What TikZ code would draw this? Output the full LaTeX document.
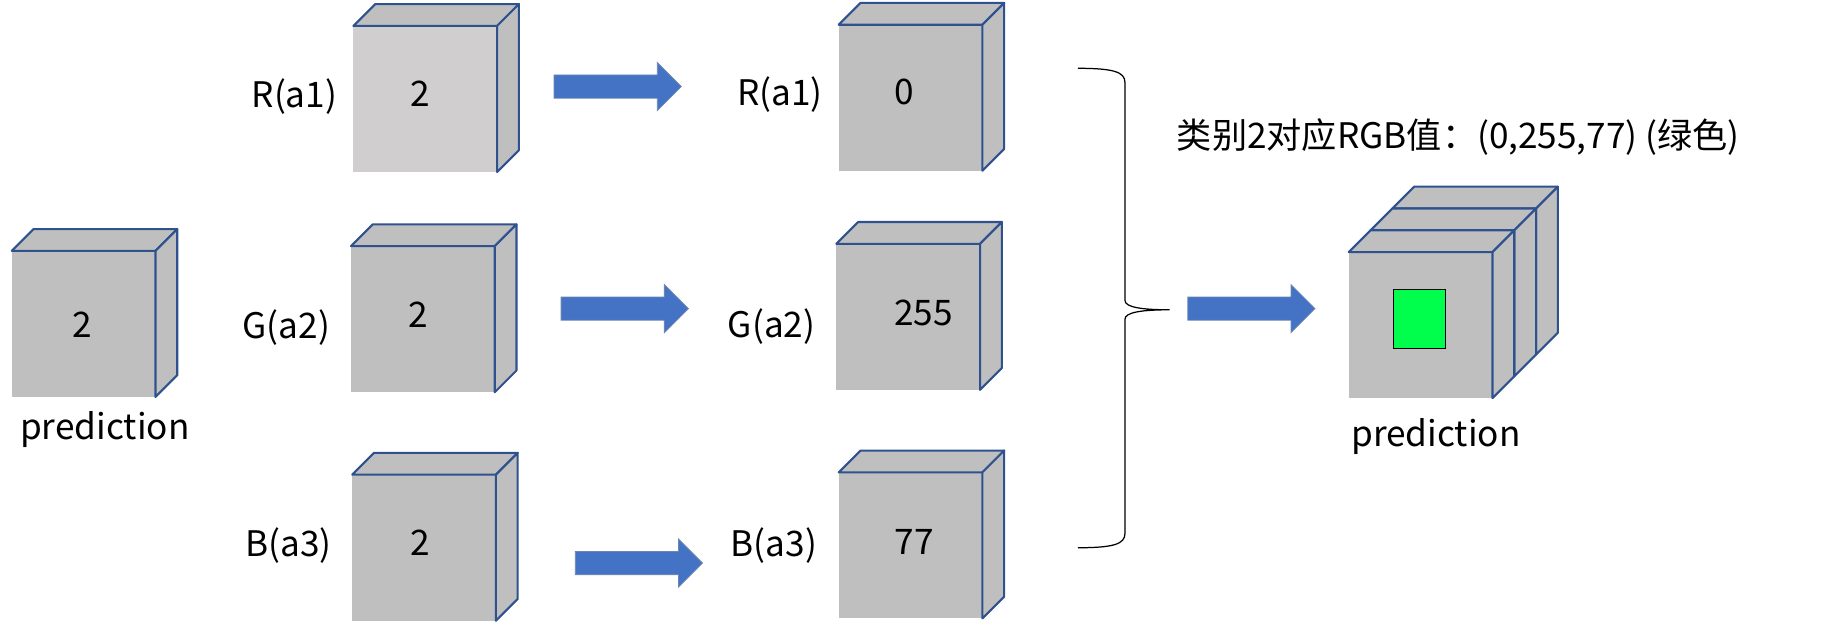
\documentclass[tikz,border=0pt]{standalone}
\usepackage{fontspec}
\setmainfont{Noto Sans CJK SC}
\usetikzlibrary{shapes.arrows}
\definecolor{cubegray}{HTML}{BFBFBF}
\definecolor{cubelight}{HTML}{D0CECE}
\definecolor{edgeblue}{HTML}{2F528F}
\definecolor{arrowblue}{HTML}{4472C4}
\definecolor{pixgreen}{RGB}{0,255,77}
\tikzset{
  cubeside/.style={fill=cubegray, draw=edgeblue, line width=1pt, line join=round},
  pics/cube/.style={code={
    \fill[#1] (0,0) rectangle (2.44,2.48);
    \filldraw[cubeside] (0,2.48) -- ++(0.37,0.37) -- ++(2.44,0) -- ++(-0.37,-0.37) -- cycle;
    \filldraw[cubeside] (2.44,0) -- ++(0.37,0.37) -- ++(0,2.48) -- ++(-0.37,-0.37) -- cycle;
  }},
  pics/cube/.default=cubegray,
  txt/.style={font=\fontsize{17}{20}\selectfont, inner sep=0pt},
  bigarrow/.style={single arrow, fill=arrowblue, draw=edgeblue!70, line width=0.4pt, anchor=tail,
    inner xsep=0pt, inner ysep=0.19cm, single arrow head extend=0.21cm, minimum height=2.16cm}
}
\begin{document}
\begin{tikzpicture}
\useasboundingbox (0,0) rectangle (31.36,10.6);
\pic at (0.2,3.86) {cube};
\pic at (6.0,7.68) {cube=cubelight};
\pic at (5.96,3.94) {cube};
\pic at (5.98,0.06) {cube};
\pic at (14.24,7.7) {cube};
\pic at (14.2,3.98) {cube};
\pic at (14.24,0.1) {cube};
\pic at (23.64,4.58) {cube};
\pic at (23.27,4.21) {cube};
\pic at (22.9,3.84) {cube};
\node[draw=black, fill=pixgreen, line width=0.6pt, minimum width=0.88cm, minimum height=1cm, inner sep=0pt] (pix) at (24.1,5.18) {};
\node[txt] (n0) at (1.4,5.08) {2};
\node[txt] (pred0) at (1.78,3.3) {prediction};
\node[txt] (r0) at (5.0,8.96) {R(a1)};
\node[txt] (g0) at (4.86,5.04) {G(a2)};
\node[txt] (b0) at (4.9,1.34) {B(a3)};
\node[txt] (nr0) at (7.14,9.0) {2};
\node[txt] (ng0) at (7.1,5.26) {2};
\node[txt] (nb0) at (7.14,1.38) {2};
\node[bigarrow] (ar) at (9.4,9.13) {};
\node[bigarrow] (ag) at (9.52,5.36) {};
\node[bigarrow] (ab) at (9.76,1.04) {};
\node[txt] (r1) at (13.24,9.0) {R(a1)};
\node[txt] (g1) at (13.1,5.06) {G(a2)};
\node[txt] (b1) at (13.14,1.34) {B(a3)};
\node[txt] (nr1) at (15.36,9.04) {0};
\node[txt] (ng1) at (15.68,5.28) {255};
\node[txt] (nb1) at (15.52,1.4) {77};
\draw[line width=0.6pt] (18.3,9.44) .. controls (18.9,9.44) and (19.1,9.38) .. (19.1,9.2)
  -- (19.1,5.5) .. controls (19.1,5.38) and (19.4,5.34) .. (19.86,5.34)
  .. controls (19.4,5.34) and (19.1,5.3) .. (19.1,5.18)
  -- (19.1,1.54) .. controls (19.1,1.36) and (18.9,1.3) .. (18.3,1.3);
\node[bigarrow] (aout) at (20.16,5.36) {};
\node[txt] (title) at (24.76,8.28) {类别2对应RGB值：(0,255,77) (绿色)};
\node[txt] (pred1) at (24.38,3.18) {prediction};
\end{tikzpicture}
\end{document}
